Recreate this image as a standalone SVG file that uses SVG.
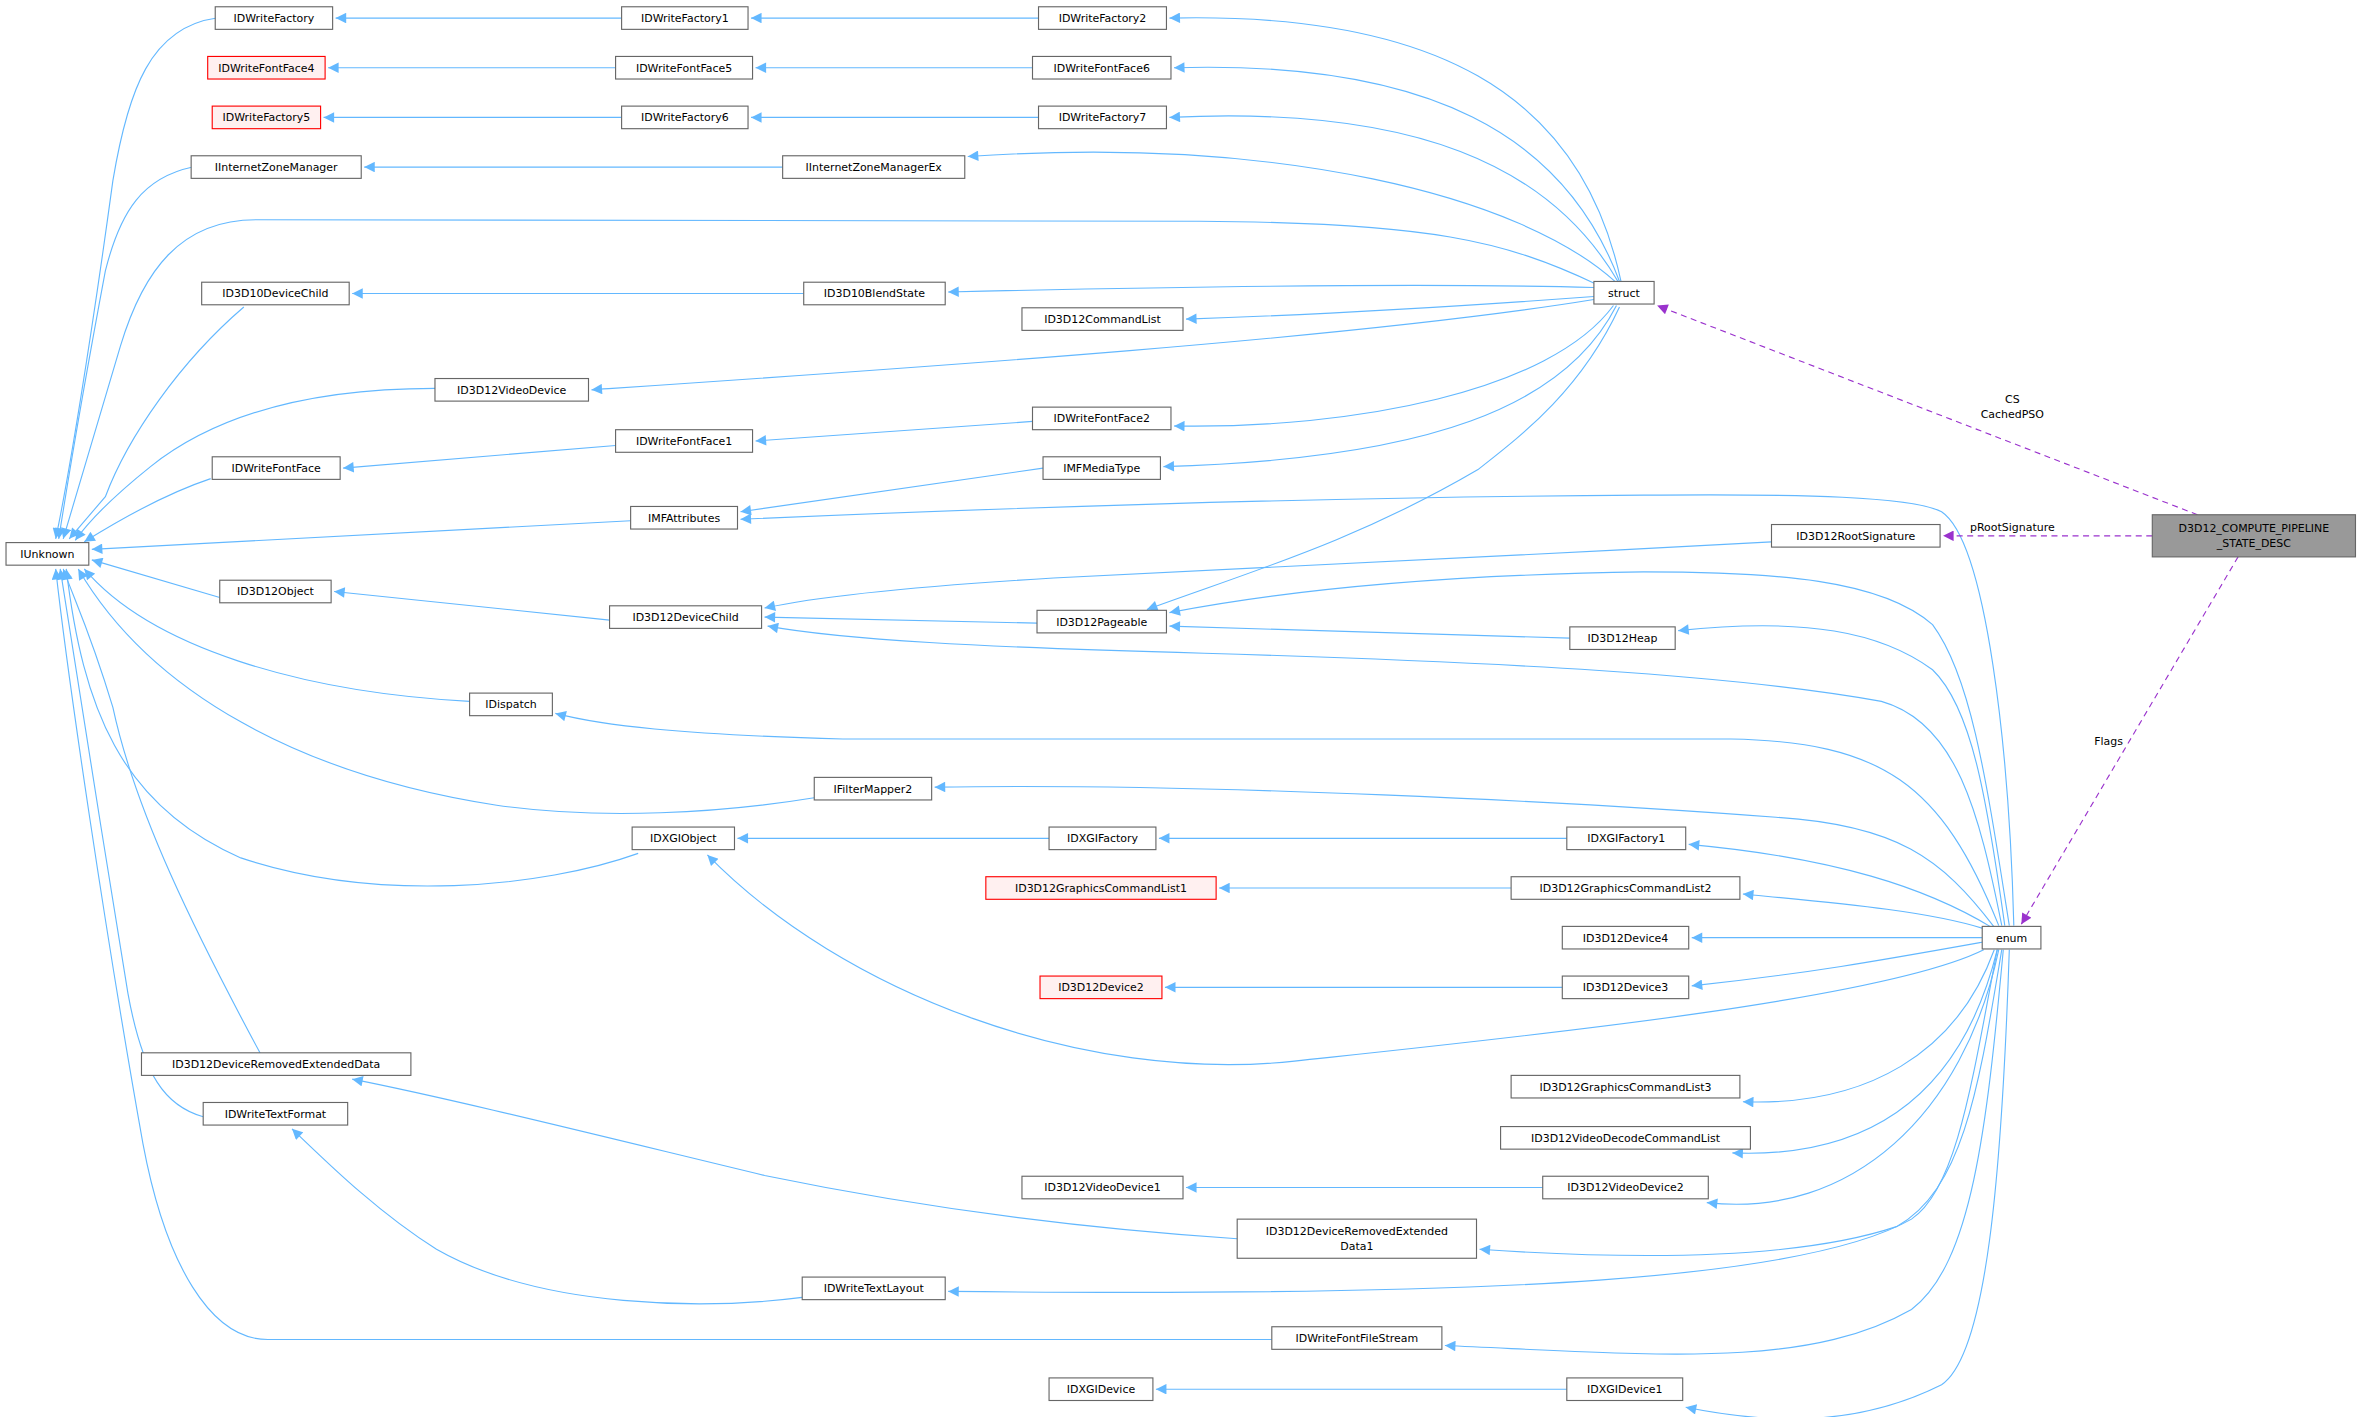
<svg xmlns="http://www.w3.org/2000/svg" width="2360" height="1417" viewBox="0 0 2360 1417">
<style>
.n rect{fill:#fff;stroke:#666;stroke-width:0.75}
.r rect{fill:#fff0f0;stroke:#f00;stroke-width:0.75}
.g rect{fill:#999;stroke:#666;stroke-width:0.75}
text{font-family:"DejaVu Sans","Liberation Sans",sans-serif;font-size:7.3px;fill:#000;text-anchor:middle}
.e path{fill:none;stroke:#63b8ff;stroke-width:0.75;marker-end:url(#a)}
.e path.p{stroke:#9a32cd;stroke-dasharray:4,3;marker-end:url(#b)}
</style>
<defs>
<marker id="a" viewBox="0 0 10 10" refX="10" refY="5" markerWidth="8" markerHeight="7" markerUnits="userSpaceOnUse" orient="auto"><path d="M0,0 L10,5 L0,10 z" fill="#63b8ff"/></marker>
<marker id="b" viewBox="0 0 10 10" refX="10" refY="5" markerWidth="8" markerHeight="7" markerUnits="userSpaceOnUse" orient="auto"><path d="M0,0 L10,5 L0,10 z" fill="#9a32cd"/></marker>
</defs>
<rect width="2360" height="1417" fill="#fff"/>
<g transform="scale(1.50510)">
<g id="edges" class="e">
<path d="M144,12 C100,18 85,60 75,120 C60,230 45,320 37,358"/>
<path d="M128,111 C95,118 80,140 70,180 C55,260 45,320 39,358"/>
<path d="M1061,189 C1000,160 950,148 797,147 L170,146 C120,146 95,180 80,230 C62,290 50,330 42,358"/>
<path d="M162,204 C120,240 85,290 70,330 L46,358"/>
<path d="M289,258 C220,258 150,270 100,310 C75,330 60,345 50,359"/>
<path d="M140,318 C110,328 80,345 56,360"/>
<path d="M419,346 L61,365"/>
<path d="M146,397 L61,372"/>
<path d="M312,466 C200,460 100,430 56,378"/>
<path d="M541,530 C480,540 400,545 330,535 C200,515 100,460 52,378"/>
<path d="M424,567 C360,590 250,600 160,570 C80,535 55,470 44,378"/>
<path d="M173,700 C130,620 90,540 75,470 C60,420 50,400 42,378"/>
<path d="M135,742 C110,735 95,715 85,660 C70,570 50,440 40,378"/>
<path d="M845,890 L178,890 C140,890 110,840 95,760 C70,620 45,450 37,378"/>
<path d="M413,12 L223,12"/>
<path d="M690,12 L499,12"/>
<path d="M409,45 L218,45"/>
<path d="M686,45 L502,45"/>
<path d="M413,78 L215,78"/>
<path d="M690,78 L499,78"/>
<path d="M520,111 L242,111"/>
<path d="M534,195 L234,195"/>
<path d="M409,296 L228,311"/>
<path d="M686,280 L502,293"/>
<path d="M693,311 L492,340"/>
<path d="M405,412 L222,393"/>
<path d="M689,414 L508,410"/>
<path d="M1077,187 C1050,60 950,8 777,12"/>
<path d="M1076,187 C1040,90 950,40 780,45"/>
<path d="M1075,187 C1030,110 940,70 777,78"/>
<path d="M1073,187 C1010,130 850,90 643,104"/>
<path d="M1059,191 C950,188 800,190 630,194"/>
<path d="M1059,197 C950,205 850,210 788,212"/>
<path d="M1059,199 C900,225 600,245 393,259"/>
<path d="M1072,203 C1030,260 900,285 780,283"/>
<path d="M1074,203 C1040,270 950,305 773,310"/>
<path d="M1076,204 C1050,260 1010,290 982,312 C900,360 830,380 762,405"/>
<path d="M1338,615 C1335,500 1320,360 1290,340 C1270,330 1200,328 1092,329 C900,330 700,336 492,345"/>
<path d="M1177,360 C1000,370 800,378 700,384 C600,390 540,397 508,404"/>
<path d="M1335,615 C1320,520 1310,450 1284,415 C1250,385 1180,380 1092,380 C950,382 850,393 777,407"/>
<path d="M1043,424 L777,416"/>
<path d="M1332,615 C1320,530 1310,470 1284,445 C1250,420 1200,410 1115,419"/>
<path d="M1330,615 C1315,540 1300,480 1250,466 C1150,448 1000,440 800,434 C650,430 560,425 510,416"/>
<path d="M1328,615 C1290,520 1250,493 1150,491 L560,491 C450,488 400,482 369,474"/>
<path d="M1325,616 C1290,570 1260,548 1180,543 C1050,533 800,520 621,523"/>
<path d="M1323,616 C1280,590 1220,570 1122,561"/>
<path d="M1041,557 L770,557"/>
<path d="M697,557 L490,557"/>
<path d="M1318,617 C1280,605 1220,600 1158,594"/>
<path d="M1004,590 L810,590"/>
<path d="M1317,623 L1124,623"/>
<path d="M1317,626 C1250,638 1200,647 1124,655"/>
<path d="M1038,656 L774,656"/>
<path d="M1318,631 C1250,665 1000,690 860,705 C720,720 560,660 470,568"/>
<path d="M1325,631 C1300,700 1240,735 1158,732"/>
<path d="M1327,631 C1305,720 1250,770 1151,766"/>
<path d="M1328,631 C1305,740 1230,810 1134,799"/>
<path d="M1025,789 L788,789"/>
<path d="M1330,631 C1315,720 1305,790 1260,815 C1200,835 1100,838 983,830"/>
<path d="M822,823 C700,815 600,800 508,781 C400,755 300,730 234,717"/>
<path d="M1327,631 C1310,720 1300,790 1270,810 C1200,850 1000,862 630,858"/>
<path d="M533,862 C470,870 360,870 290,830 C250,805 215,770 194,750"/>
<path d="M1331,631 C1320,750 1310,840 1270,870 C1200,910 1100,900 960,894"/>
<path d="M1335,631 C1330,780 1320,900 1290,920 C1230,950 1170,945 1120,935"/>
<path d="M1041,923 L768,923"/>
<path class="p" d="M1460,342 L1101,203"/>
<path class="p" d="M1430,356 L1291,356"/>
<path class="p" d="M1487,370 L1343,614"/>
</g>
<text x="1337" y="268">CS</text>
<text x="1337" y="278">CachedPSO</text>
<text x="1337" y="353">pRootSignature</text>
<text x="1401" y="495">Flags</text>
<g id="IUnknown" class="n"><rect x="4" y="360.5" width="55" height="15"/><text x="31.5" y="370.6">IUnknown</text></g>
<g id="IDWriteFactory" class="n"><rect x="143" y="4.5" width="78" height="15"/><text x="182" y="14.6">IDWriteFactory</text></g>
<g id="IDWriteFontFace4" class="r"><rect x="138" y="37.5" width="78" height="15"/><text x="177" y="47.6">IDWriteFontFace4</text></g>
<g id="IDWriteFactory5" class="r"><rect x="141" y="70.5" width="72" height="15"/><text x="177" y="80.6">IDWriteFactory5</text></g>
<g id="IInternetZoneManager" class="n"><rect x="127" y="103.5" width="113" height="15"/><text x="183.5" y="113.6">IInternetZoneManager</text></g>
<g id="ID3D10DeviceChild" class="n"><rect x="134" y="187.5" width="98" height="15"/><text x="183" y="197.6">ID3D10DeviceChild</text></g>
<g id="IDWriteFontFace" class="n"><rect x="141" y="303.5" width="85" height="15"/><text x="183.5" y="313.6">IDWriteFontFace</text></g>
<g id="ID3D12Object" class="n"><rect x="146" y="385.5" width="74" height="15"/><text x="183" y="395.6">ID3D12Object</text></g>
<g id="IDispatch" class="n"><rect x="312" y="460.5" width="55" height="15"/><text x="339.5" y="470.6">IDispatch</text></g>
<g id="ID3D12DeviceRemovedExtendedData" class="n"><rect x="94" y="699.5" width="179" height="15"/><text x="183.5" y="709.6">ID3D12DeviceRemovedExtendedData</text></g>
<g id="IDWriteTextFormat" class="n"><rect x="135" y="732.5" width="96" height="15"/><text x="183" y="742.6">IDWriteTextFormat</text></g>
<g id="IDWriteFactory1" class="n"><rect x="413" y="4.5" width="84" height="15"/><text x="455" y="14.6">IDWriteFactory1</text></g>
<g id="IDWriteFontFace5" class="n"><rect x="409" y="37.5" width="91" height="15"/><text x="454.5" y="47.6">IDWriteFontFace5</text></g>
<g id="IDWriteFactory6" class="n"><rect x="413" y="70.5" width="84" height="15"/><text x="455" y="80.6">IDWriteFactory6</text></g>
<g id="IInternetZoneManagerEx" class="n"><rect x="520" y="103.5" width="121" height="15"/><text x="580.5" y="113.6">IInternetZoneManagerEx</text></g>
<g id="ID3D10BlendState" class="n"><rect x="534" y="187.5" width="94" height="15"/><text x="581" y="197.6">ID3D10BlendState</text></g>
<g id="ID3D12CommandList" class="n"><rect x="679" y="204.5" width="107" height="15"/><text x="732.5" y="214.6">ID3D12CommandList</text></g>
<g id="ID3D12VideoDevice" class="n"><rect x="289" y="251.5" width="102" height="15"/><text x="340" y="261.6">ID3D12VideoDevice</text></g>
<g id="IDWriteFontFace1" class="n"><rect x="409" y="285.5" width="91" height="15"/><text x="454.5" y="295.6">IDWriteFontFace1</text></g>
<g id="IMFAttributes" class="n"><rect x="419" y="336.5" width="71" height="15"/><text x="454.5" y="346.6">IMFAttributes</text></g>
<g id="ID3D12DeviceChild" class="n"><rect x="405" y="402.5" width="101" height="15"/><text x="455.5" y="412.6">ID3D12DeviceChild</text></g>
<g id="IFilterMapper2" class="n"><rect x="541" y="516.5" width="78" height="15"/><text x="580" y="526.6">IFilterMapper2</text></g>
<g id="IDXGIObject" class="n"><rect x="420" y="549.5" width="68" height="15"/><text x="454" y="559.6">IDXGIObject</text></g>
<g id="IDWriteTextLayout" class="n"><rect x="533" y="848.5" width="95" height="15"/><text x="580.5" y="858.6">IDWriteTextLayout</text></g>
<g id="IDWriteFontFileStream" class="n"><rect x="845" y="881.5" width="113" height="15"/><text x="901.5" y="891.6">IDWriteFontFileStream</text></g>
<g id="ID3D12DeviceRemovedExtendedData1" class="n"><rect x="822" y="810" width="159" height="26"/><text x="901.5" y="820.5">ID3D12DeviceRemovedExtended</text><text x="901.5" y="830.5">Data1</text></g>
<g id="IDWriteFactory2" class="n"><rect x="690" y="4.5" width="85" height="15"/><text x="732.5" y="14.6">IDWriteFactory2</text></g>
<g id="IDWriteFontFace6" class="n"><rect x="686" y="37.5" width="92" height="15"/><text x="732" y="47.6">IDWriteFontFace6</text></g>
<g id="IDWriteFactory7" class="n"><rect x="690" y="70.5" width="85" height="15"/><text x="732.5" y="80.6">IDWriteFactory7</text></g>
<g id="IDWriteFontFace2" class="n"><rect x="686" y="270.5" width="92" height="15"/><text x="732" y="280.6">IDWriteFontFace2</text></g>
<g id="IMFMediaType" class="n"><rect x="693" y="303.5" width="78" height="15"/><text x="732" y="313.6">IMFMediaType</text></g>
<g id="ID3D12Pageable" class="n"><rect x="689" y="405.5" width="86" height="15"/><text x="732" y="415.6">ID3D12Pageable</text></g>
<g id="IDXGIFactory" class="n"><rect x="697" y="549.5" width="71" height="15"/><text x="732.5" y="559.6">IDXGIFactory</text></g>
<g id="ID3D12GraphicsCommandList1" class="r"><rect x="655" y="582.5" width="153" height="15"/><text x="731.5" y="592.6">ID3D12GraphicsCommandList1</text></g>
<g id="ID3D12Device2" class="r"><rect x="691" y="648.5" width="81" height="15"/><text x="731.5" y="658.6">ID3D12Device2</text></g>
<g id="ID3D12VideoDevice1" class="n"><rect x="679" y="781.5" width="107" height="15"/><text x="732.5" y="791.6">ID3D12VideoDevice1</text></g>
<g id="IDXGIDevice" class="n"><rect x="697" y="915.5" width="69" height="15"/><text x="731.5" y="925.6">IDXGIDevice</text></g>
<g id="struct" class="n"><rect x="1059" y="187" width="40" height="15"/><text x="1079" y="197.1">struct</text></g>
<g id="ID3D12RootSignature" class="n"><rect x="1177" y="348.5" width="112" height="15"/><text x="1233" y="358.6">ID3D12RootSignature</text></g>
<g id="ID3D12Heap" class="n"><rect x="1043" y="416.5" width="70" height="15"/><text x="1078" y="426.6">ID3D12Heap</text></g>
<g id="IDXGIFactory1" class="n"><rect x="1041" y="549.5" width="79" height="15"/><text x="1080.5" y="559.6">IDXGIFactory1</text></g>
<g id="ID3D12GraphicsCommandList2" class="n"><rect x="1004" y="582.5" width="152" height="15"/><text x="1080" y="592.6">ID3D12GraphicsCommandList2</text></g>
<g id="ID3D12Device4" class="n"><rect x="1038" y="615.5" width="84" height="15"/><text x="1080" y="625.6">ID3D12Device4</text></g>
<g id="ID3D12Device3" class="n"><rect x="1038" y="648.5" width="84" height="15"/><text x="1080" y="658.6">ID3D12Device3</text></g>
<g id="ID3D12GraphicsCommandList3" class="n"><rect x="1004" y="714.5" width="152" height="15"/><text x="1080" y="724.6">ID3D12GraphicsCommandList3</text></g>
<g id="ID3D12VideoDecodeCommandList" class="n"><rect x="997" y="748.5" width="166" height="15"/><text x="1080" y="758.6">ID3D12VideoDecodeCommandList</text></g>
<g id="ID3D12VideoDevice2" class="n"><rect x="1025" y="781.5" width="110" height="15"/><text x="1080" y="791.6">ID3D12VideoDevice2</text></g>
<g id="IDXGIDevice1" class="n"><rect x="1041" y="915.5" width="77" height="15"/><text x="1079.5" y="925.6">IDXGIDevice1</text></g>
<g id="enum" class="n"><rect x="1317" y="615.5" width="39" height="15"/><text x="1336.5" y="625.6">enum</text></g>
<g id="D3D12_COMPUTE_PIPELINE_STATE_DESC" class="g"><rect x="1430" y="342" width="135" height="28"/><text x="1497.5" y="353.5">D3D12_COMPUTE_PIPELINE</text><text x="1497.5" y="363.5">_STATE_DESC</text></g>
</g>
</svg>
